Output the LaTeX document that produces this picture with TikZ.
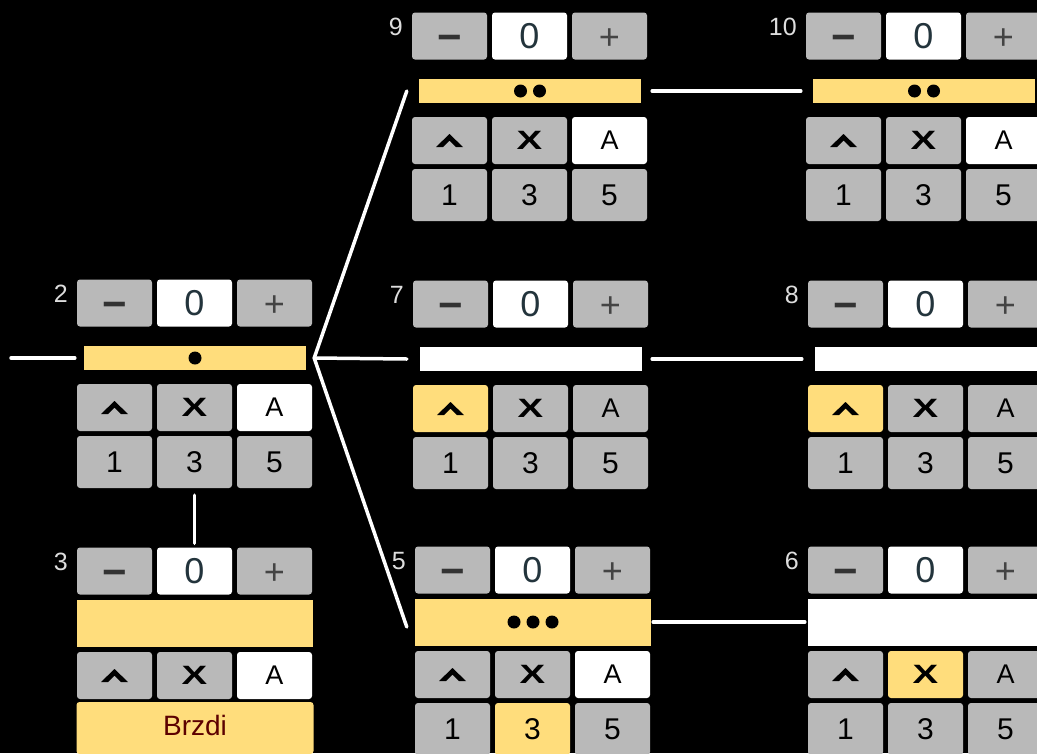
\documentclass[tikz,border=0pt]{standalone}
\usepackage{fontspec}
\setmainfont{Liberation Sans}
\usetikzlibrary{positioning}

\definecolor{keygray}{HTML}{B9B9B9}
\definecolor{hl}{HTML}{FFDD7C}
\definecolor{zerotxt}{HTML}{23343C}
\definecolor{minusgray}{HTML}{333333}
\definecolor{plusgray}{HTML}{444444}
\definecolor{taggray}{HTML}{DDDDDD}
\definecolor{brake}{HTML}{5C0000}

\tikzset{
  key/.style={fill=keygray,rounded corners=3,inner sep=0,minimum width=75,minimum height=47,text=black},
  numkey/.style={key,minimum height=52,font=\fontsize{30}{30}\selectfont},
  thinbar/.style={inner sep=0,minimum width=222,minimum height=24,yshift=-3},
  tallbar/.style={inner sep=0,minimum width=236,minimum height=47},
  tag/.style={anchor=north east,inner sep=0,text=taggray,font=\fontsize{25}{25}\selectfont},
  link/.style={draw=white,line width=3.5,line cap=round}
}

\newcommand{\upmark}{\tikz{\fill[black,sharp corners] (0pt,0pt) -- (13.5pt,13pt) -- (27pt,0pt) -- (20pt,0pt) -- (13.5pt,6.5pt) -- (7pt,0pt) -- cycle;}}
\newcommand{\crossmark}{\scalebox{1.45}[1]{\fontsize{26.5}{26.5}\selectfont\bfseries X}}
\newcommand{\bardots}[1]{\tikz{\foreach \k in {1,...,#1}{\fill[black] (\k*19pt,0pt) circle (6.5pt);}}}

\newcommand{\panel}[8]{%
  \node[tag] (n#1) at (#2-9,#3+5) {#1};
  \node[key,text=minusgray,text height=31pt,text depth=0pt,font=\fontsize{42}{42}\selectfont\bfseries] (minus#1) at (#2+37.5,#3+23) {−};
  \node[key,fill=white,text=zerotxt,font=\fontsize{36}{36}\selectfont] (zero#1) at (#2+117.5,#3+23) {0};
  \node[key,text=plusgray,text height=26.6pt,text depth=0pt,font=\fontsize{36}{36}\selectfont] (plus#1) at (#2+197.5,#3+23) {+};
  \node[#4] (bar#1) at (#2+118,#3+75) {#5};
  \node[key,fill=#6] (up#1) at (#2+37.5,#3+127.5) {\upmark};
  \node[key,fill=#7] (cross#1) at (#2+117.5,#3+127.5) {\crossmark};
  \node[key,fill=#8,font=\fontsize{27}{27}\selectfont] (auto#1) at (#2+197.5,#3+127.5) {A};
}
\newcommand{\digitrow}[4]{%
  \node[numkey] (one#1) at (#2+37.5,#3+182) {1};
  \node[numkey,fill=#4] (three#1) at (#2+117.5,#3+182) {3};
  \node[numkey] (five#1) at (#2+197.5,#3+182) {5};
}

\begin{document}
\begin{tikzpicture}[x=1pt,y=-1pt]
\useasboundingbox (0,0) rectangle (1037,753);
\clip (0,0) rectangle (1037,753);
\fill[black] (0,0) rectangle (1037,753);

\panel{2}{77}{280}{thinbar,fill=hl}{\bardots{1}}{keygray}{keygray}{white}
\digitrow{2}{77}{280}{keygray}
\panel{3}{77}{548}{tallbar,fill=hl}{}{keygray}{keygray}{white}
\node[numkey,fill=hl,minimum width=237,text=brake,text depth=6pt,font=\fontsize{28}{28}\selectfont] (brzdi3) at (77+118,546+182) {Brzdi};
\panel{9}{412}{13}{thinbar,fill=hl}{\bardots{2}}{keygray}{keygray}{white}
\digitrow{9}{412}{13}{keygray}
\panel{10}{806}{13}{thinbar,fill=hl}{\bardots{2}}{keygray}{keygray}{white}
\digitrow{10}{806}{13}{keygray}
\panel{7}{413}{281}{thinbar,fill=white}{}{hl}{keygray}{keygray}
\digitrow{7}{413}{281}{keygray}
\panel{8}{808}{281}{thinbar,fill=white}{}{hl}{keygray}{keygray}
\digitrow{8}{808}{281}{keygray}
\panel{5}{415}{547}{tallbar,fill=hl}{\bardots{3}}{keygray}{keygray}{white}
\digitrow{5}{415}{547}{hl}
\panel{6}{808}{547}{tallbar,fill=white}{}{keygray}{hl}{keygray}
\digitrow{6}{808}{547}{keygray}

\coordinate (feed) at (11,358);
\coordinate (fork) at ([xshift=8]bar2.east);
\draw[link,shorten >=9] (feed) -- (bar2);
\draw[link] (fork) -- ([xshift=-12]bar9.west);
\draw[link] (fork) -- ([xshift=-13]bar7.west);
\draw[link] (fork) -- ([xshift=-8,yshift=-5]bar5.west);
\draw[link,shorten <=11,shorten >=12] (bar9) -- (bar10);
\draw[link,shorten <=10,shorten >=13] (bar7) -- (bar8);
\draw[link,shorten <=2,shorten >=3] (bar5) -- (bar6);
\draw[link,shorten <=7,shorten >=4] (three2) -- (zero3);
\end{tikzpicture}
\end{document}
